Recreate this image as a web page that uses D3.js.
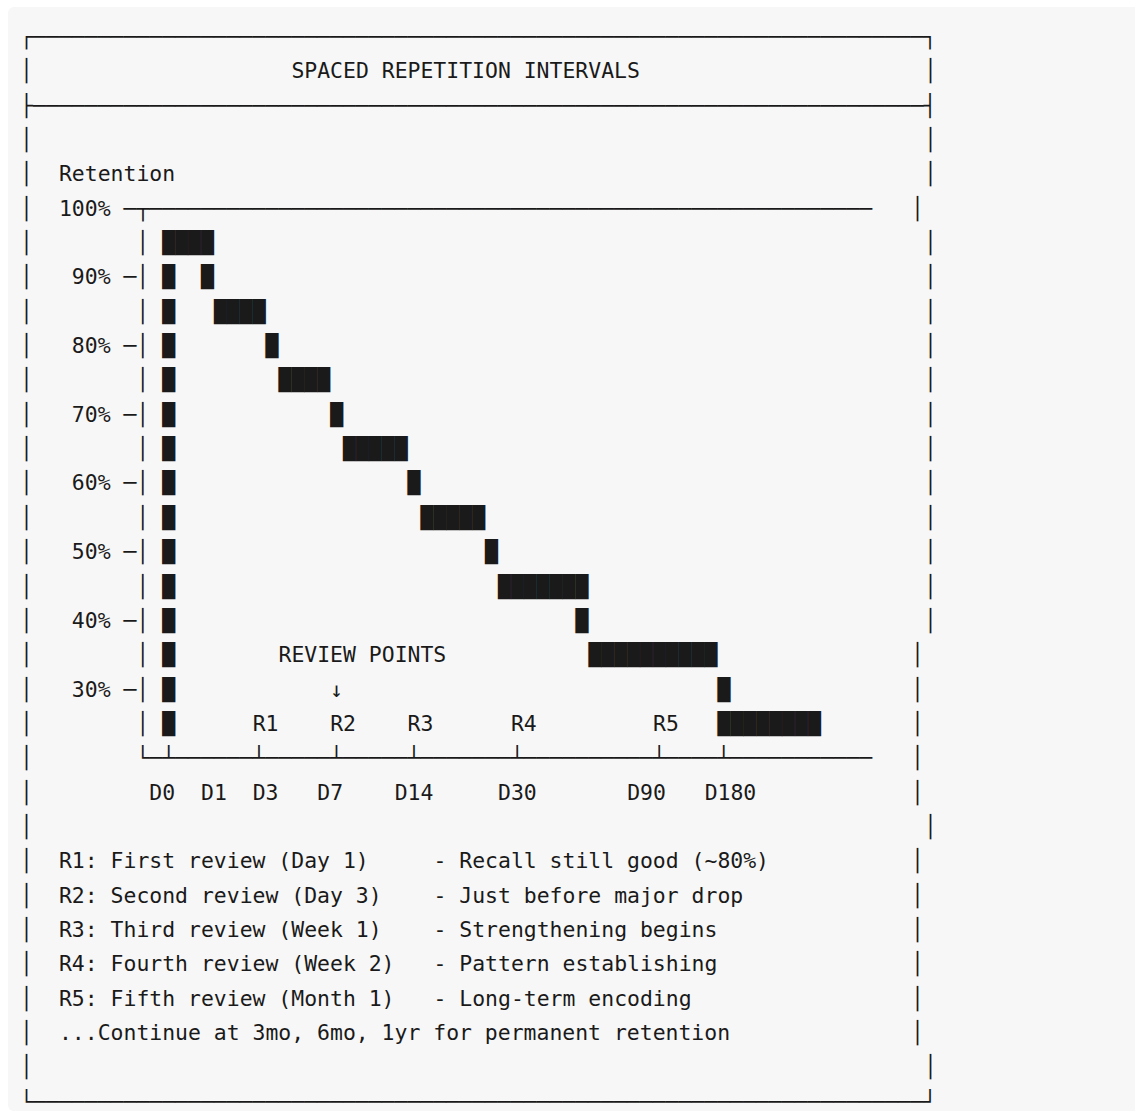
<!DOCTYPE html>
<html>
<head>
<meta charset="utf-8">
<script src="https://cdn.jsdelivr.net/npm/d3@7"></script>
<style>
  html, body { margin: 0; padding: 0; background: #ffffff; }
  svg { display: block; }
  text { font-family: "DejaVu Sans Mono", monospace; fill: #1a1a1a; }
</style>
</head>
<body>
<svg id="chart" width="1135" height="1119"></svg>
<script>
// ---------------- DATA ----------------
const title = "SPACED REPETITION INTERVALS";
const yAxisTitle = "Retention";
const yTickValues = [100, 90, 80, 70, 60, 50, 40, 30];
const yTickLabels = ["100%", "90%", "80%", "70%", "60%", "50%", "40%", "30%"];

// forgetting curve drawn with block cells (retention level, first cell column, number of cells)
const curveLevels   = [95, 90, 85, 80, 75, 70, 65, 60, 55, 50, 45, 40, 35, 30, 25];
const curveStartCol = [11, 14, 15, 19, 20, 24, 25, 30, 31, 36, 37, 43, 44, 54, 54];
const curveCells    = [ 4,  1,  4,  1,  4,  1,  5,  1,  5,  1,  7,  1, 10,  1,  8];

// initial learning column (D0)
const initialCol = 11;
const initialLevels = [90, 85, 80, 75, 70, 65, 60, 55, 50, 45, 40, 35, 30, 25];

const reviewHeader = "REVIEW POINTS";
const reviewHeaderCol = 20;
const reviewArrow = "↓";
const reviewArrowCol = 24;
const reviewLabels = ["R1", "R2", "R3", "R4", "R5"];
const reviewCols   = [18, 24, 30, 38, 49];

const xTickLabels = ["D0", "D1", "D3", "D7", "D14", "D30", "D90", "D180"];
const xLabelCols  = [10, 14, 18, 23, 29, 37, 47, 53];
const xTickCols   = [11, 18, 24, 30, 38, 49, 54];

const noteLabels = [
  "R1: First review (Day 1)",
  "R2: Second review (Day 3)",
  "R3: Third review (Week 1)",
  "R4: Fourth review (Week 2)",
  "R5: Fifth review (Month 1)"
];
const noteDescriptions = [
  "- Recall still good (~80%)",
  "- Just before major drop",
  "- Strengthening begins",
  "- Pattern establishing",
  "- Long-term encoding"
];
const footnote = "...Continue at 3mo, 6mo, 1yr for permanent retention";

// ---------------- LAYOUT (character grid) ----------------
const FS = 21.45;                 // font size
const CW = FS * 1233 / 2048;      // monospace advance
const LH = 34.35;                 // line height
const X0 = 20.2, Y0 = 35;         // left of col 0, centre of row 0
const NCOLS = 71, NROWS = 32;
const shortRows = new Set([5, 18, 19, 20, 21, 22, 24, 25, 26, 27, 28, 29]);

const colX = d3.scaleLinear().domain([0, 1]).range([X0, X0 + CW]);
const rowY = d3.scaleLinear().domain([0, 1]).range([Y0, Y0 + LH]);
const retRow = d3.scaleLinear().domain([100, 25]).range([5, 20]);
const base = r => rowY(r) + 0.346 * FS + 1.5;

const svg = d3.select("#chart");
svg.append("rect").attr("x", 8).attr("y", 7).attr("width", 1140).attr("height", 1104)
  .attr("rx", 6).attr("fill", "#f7f7f7");

const g = svg.append("g").style("font-size", FS + "px");
function put(row, col, str, anchor) {
  g.append("text")
    .attr("x", colX(col)).attr("y", base(row))
    .attr("text-anchor", anchor || "start")
    .style("white-space", "pre")
    .text(str);
}

// outer frame
put(0, 0, "┌" + "─".repeat(NCOLS - 2) + "┐");
put(2, 0, "├" + "─".repeat(NCOLS - 2) + "┤");
put(NROWS - 1, 0, "└" + "─".repeat(NCOLS - 2) + "┘");
for (let r = 1; r < NROWS - 1; r++) {
  if (r === 2) continue;
  put(r, 0, "│");
  put(r, shortRows.has(r) ? NCOLS - 2 : NCOLS - 1, "│");
}

// title
put(1, 21, title);
put(4, 3, yAxisTitle);

// y axis
const axisCol = 9, axisEnd = 65;
const topRow = retRow(100), bottomRow = retRow(25) + 1;
put(topRow, axisCol - 1, "─┬" + "─".repeat(axisEnd - axisCol));
for (let r = topRow + 1; r < bottomRow; r++) put(r, axisCol, "│");
yTickValues.forEach((v, i) => {
  const r = retRow(v);
  put(r, axisCol - 2, yTickLabels[i], "end");
  if (v !== 100) put(r, axisCol - 1, "─");
});

// x axis
let axisStr = "└";
for (let c = axisCol + 1; c <= axisEnd; c++) axisStr += xTickCols.includes(c) ? "┴" : "─";
put(bottomRow, axisCol, axisStr);
xTickLabels.forEach((lab, i) => put(bottomRow + 1, xLabelCols[i], lab));

// initial learning column
initialLevels.forEach(v => put(retRow(v), initialCol, "█"));
// forgetting curve
curveLevels.forEach((v, i) => put(retRow(v), curveStartCol[i], "█".repeat(curveCells[i])));

// review points
put(retRow(35), reviewHeaderCol, reviewHeader);
put(retRow(30), reviewArrowCol, reviewArrow);
reviewLabels.forEach((lab, i) => put(retRow(25), reviewCols[i], lab));

// notes
const noteRow0 = bottomRow + 3;
noteLabels.forEach((lab, i) => {
  put(noteRow0 + i, 3, lab);
  put(noteRow0 + i, 32, noteDescriptions[i]);
});
put(noteRow0 + noteLabels.length, 3, footnote);
</script>
</body>
</html>
